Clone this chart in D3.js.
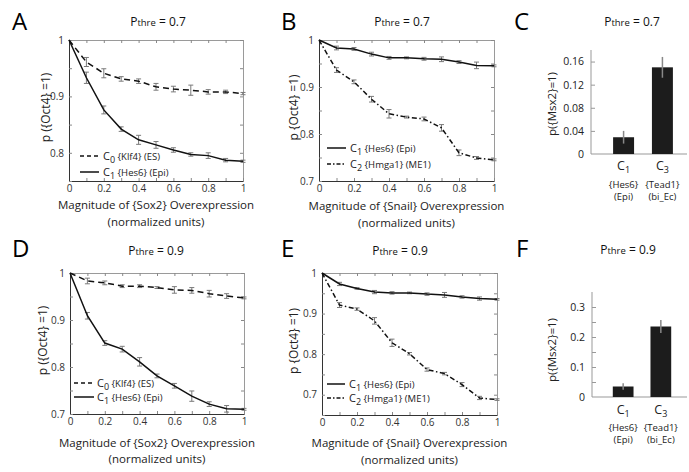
<!DOCTYPE html>
<html><head><meta charset="utf-8">
<script src="https://cdn.jsdelivr.net/npm/d3@7"></script>
<style>body{margin:0;background:#fff}text{font-family:"Open Sans",sans-serif}</style>
</head><body>
<script>
// ---------- data ----------
const xs = [0,0.1,0.2,0.3,0.4,0.5,0.6,0.7,0.8,0.9,1];
const aC0 = [1,0.961,0.941,0.931,0.927,0.917,0.913,0.911,0.908,0.908,0.905];
const aC0Err = [0,0.008,0.008,0.004,0.004,0.006,0.005,0.009,0.004,0.003,0.002];
const aC1 = [1,0.933,0.876,0.842,0.823,0.814,0.805,0.797,0.795,0.787,0.785];
const aC1Err = [0,0.010,0.007,0.004,0.008,0.006,0.004,0.003,0.005,0.003,0.002];
const bC1 = [1,0.983,0.981,0.970,0.962,0.962,0.960,0.959,0.953,0.946,0.945];
const bC1Err = [0,0.004,0.003,0.004,0.003,0.002,0.003,0.005,0.003,0.007,0.002];
const bC2 = [1,0.936,0.911,0.874,0.843,0.836,0.832,0.813,0.760,0.749,0.745];
const bC2Err = [0,0.005,0.004,0.006,0.009,0.002,0.004,0.007,0.006,0.003,0.002];
const dC0 = [1,0.983,0.979,0.972,0.972,0.969,0.964,0.963,0.956,0.951,0.947];
const dC0Err = [0,0.006,0.004,0.003,0.003,0.002,0.007,0.006,0.007,0.005,0.002];
const dC1 = [1,0.909,0.851,0.838,0.811,0.781,0.760,0.738,0.721,0.711,0.710];
const dC1Err = [0,0.007,0.005,0.006,0.009,0.004,0.005,0.011,0.005,0.007,0.002];
const eC1 = [1,0.973,0.962,0.953,0.951,0.951,0.948,0.946,0.941,0.937,0.935];
const eC1Err = [0,0.004,0.002,0.004,0.003,0.002,0.003,0.006,0.003,0.004,0.002];
const eC2 = [1,0.921,0.911,0.882,0.828,0.801,0.762,0.752,0.725,0.692,0.688];
const eC2Err = [0,0.006,0.003,0.008,0.009,0.003,0.004,0.003,0.005,0.004,0.002];

const barCats = ["C1","C3"];
const barSubs = ["1","3"];
const barGenes = ["{Hes6}","{Tead1}"];
const barTypes = ["(Epi)","(bi_Ec)"];
const cVals = [0.029,0.150];
const cErr = [0.011,0.018];
const fVals = [0.035,0.235];
const fErr = [0.011,0.022];

const xLabelSox2 = "Magnitude of {Sox2} Overexpression";
const xLabelSnail = "Magnitude of {Snail} Overexpression";
const xLabel2 = "(normalized units)";

// ---------- drawing ----------
const svg = d3.select("body").append("svg").attr("width",689).attr("height",472);
const DASH = {solid:null, dashed:"6,4", dashdot:"5,2.5,1.5,2.5"};
const LEGDASH = {solid:null, dashed:"4,3", dashdot:"4,2,1.5,2"};

function title(cx, y, val){
  const t = svg.append("text").attr("x",cx).attr("y",y).attr("text-anchor","middle").attr("fill","#111");
  t.append("tspan").attr("font-size",12).text("P");
  t.append("tspan").attr("font-size",9.5).text("thre");
  t.append("tspan").attr("font-size",12).text(" = " + val);
}
function letter(x,y,s){
  svg.append("text").attr("x",x).attr("y",y).attr("font-size",24).attr("fill","#000").text(s);
}
function yLabel(x, cy, s, fs){
  svg.append("text").attr("transform",`translate(${x},${cy}) rotate(-90)`)
    .attr("text-anchor","middle").attr("font-size",fs||12).attr("fill","#222").text(s);
}
function styleAxis(g, domainColor){
  g.select(".domain").attr("stroke",domainColor).attr("stroke-width",1);
  g.selectAll(".tick line").attr("stroke","#888");
  g.selectAll(".tick text").attr("fill","#333").attr("font-family","Open Sans").attr("font-size",10);
}

function linePanel(cfg){
  const x = d3.scaleLinear().domain([0,1]).range([cfg.x0,cfg.x1]);
  const y = d3.scaleLinear().domain(cfg.ydom).range([cfg.y1,cfg.y0]);
  const xt = d3.range(0,11).map(i=>i/10);
  const yt = d3.range(Math.round(cfg.ydom[0]*20), Math.round(cfg.ydom[1]*20)+1).map(i=>i/20);
  const fx = d => (Math.round(d*10)%2===0) ? d3.format("~g")(d) : "";
  const fy = d => (Math.round(d*20)%2===0) ? d3.format("~g")(d) : "";
  const gt = svg.append("g").attr("transform",`translate(0,${cfg.y0})`)
    .call(d3.axisTop(x).tickValues(xt).tickSizeInner(-3).tickSizeOuter(0).tickFormat(""));
  styleAxis(gt,"#9a9a9a");
  const gr = svg.append("g").attr("transform",`translate(${cfg.x1},0)`)
    .call(d3.axisRight(y).tickValues(yt).tickSizeInner(-3).tickSizeOuter(0).tickFormat(""));
  styleAxis(gr,"#9a9a9a");
  const gb = svg.append("g").attr("transform",`translate(0,${cfg.y1})`)
    .call(d3.axisBottom(x).tickValues(xt).tickSizeInner(-3).tickSizeOuter(0).tickPadding(4).tickFormat(fx));
  styleAxis(gb,"#333");
  const gl = svg.append("g").attr("transform",`translate(${cfg.x0},0)`)
    .call(d3.axisLeft(y).tickValues(yt).tickSizeInner(-3).tickSizeOuter(0).tickPadding(5).tickFormat(fy));
  styleAxis(gl,"#333");

  cfg.series.forEach(s=>{
    const pts = xs.map((xv,i)=>({x:xv,v:s.vals[i],e:s.err[i]}));
    const eb = svg.append("g").attr("stroke","#7a7a7a").attr("stroke-width",1);
    pts.filter(p=>p.e>0).forEach(p=>{
      const X = x(p.x);
      eb.append("line").attr("x1",X).attr("x2",X).attr("y1",y(p.v-p.e)).attr("y2",y(p.v+p.e));
      eb.append("line").attr("x1",X-2.5).attr("x2",X+2.5).attr("y1",y(p.v-p.e)).attr("y2",y(p.v-p.e));
      eb.append("line").attr("x1",X-2.5).attr("x2",X+2.5).attr("y1",y(p.v+p.e)).attr("y2",y(p.v+p.e));
    });
    svg.append("path").datum(pts)
      .attr("d",d3.line().x(p=>x(p.x)).y(p=>y(p.v)))
      .attr("fill","none").attr("stroke","#111").attr("stroke-width",1.5)
      .attr("stroke-dasharray",DASH[s.style]);
  });

  // legend
  cfg.legend.entries.forEach((en,i)=>{
    const ly = cfg.legend.y[i];
    svg.append("line").attr("x1",cfg.legend.lx0).attr("x2",cfg.legend.lx1).attr("y1",ly).attr("y2",ly)
      .attr("stroke","#111").attr("stroke-width",1.5).attr("stroke-dasharray",LEGDASH[en.style]);
    const t = svg.append("text").attr("x",cfg.legend.tx).attr("y",ly+4).attr("fill","#222");
    t.append("tspan").attr("font-size",11).text("C");
    t.append("tspan").attr("font-size",9).attr("dy",3).text(en.sub);
    t.append("tspan").attr("font-size",9.5).attr("dy",-3).text(" " + en.label);
  });

  // x labels
  const cx = (cfg.x0+cfg.x1)/2;
  svg.append("text").attr("x",cx).attr("y",cfg.xl1).attr("text-anchor","middle").attr("font-size",11.5).attr("fill","#222").text(cfg.xlabel);
  svg.append("text").attr("x",cx).attr("y",cfg.xl2).attr("text-anchor","middle").attr("font-size",11.5).attr("fill","#222").text(xLabel2);
  yLabel(cfg.ylx, (cfg.y0+cfg.y1)/2 - 3, cfg.ylabel, 12);
}

function barPanel(cfg){
  const x = d3.scaleBand().domain(barCats).range(cfg.xr).paddingInner(cfg.pi).paddingOuter(0.26);
  const y = d3.scaleLinear().domain(cfg.ydom).range([cfg.y1,cfg.y0]);
  svg.append("line").attr("x1",cfg.x0).attr("x2",cfg.x0).attr("y1",cfg.y0).attr("y2",cfg.y1).attr("stroke","#999");
  svg.append("line").attr("x1",cfg.x0).attr("x2",cfg.xend).attr("y1",cfg.y1).attr("y2",cfg.y1).attr("stroke","#999");
  const gl = svg.append("g").attr("transform",`translate(${cfg.x0},0)`)
    .call(d3.axisLeft(y).tickValues(cfg.ticks).tickSizeInner(-4).tickSizeOuter(0).tickPadding(7).tickFormat(cfg.fmt));
  gl.select(".domain").remove();
  gl.selectAll(".tick line").attr("stroke","#999");
  gl.selectAll(".tick text").attr("fill","#222").attr("font-family","Open Sans").attr("font-size",10.5);
  gl.selectAll(".tick").filter(d=>d===0).select("line").remove();

  barCats.forEach((c,i)=>{
    const v = cfg.vals[i], e = cfg.err[i];
    const X = x(c), W = x.bandwidth(), cx = X + W/2;
    svg.append("rect").attr("x",X).attr("y",y(v)).attr("width",W).attr("height",y(0)-y(v)).attr("fill","#1c1c1c");
    svg.append("line").attr("x1",cx).attr("x2",cx).attr("y1",y(v-e)).attr("y2",y(v+e)).attr("stroke","#888").attr("stroke-width",1.5);
    const t = svg.append("text").attr("x",cx).attr("y",cfg.cy).attr("text-anchor","middle").attr("fill","#222");
    t.append("tspan").attr("font-size",12.5).text("C");
    t.append("tspan").attr("font-size",9).attr("dy",3).text(barSubs[i]);
    svg.append("text").attr("x",cx).attr("y",cfg.gy).attr("text-anchor","middle").attr("font-size",9.5)
      .attr("font-family","Liberation Sans").attr("fill","#222").text(barGenes[i]);
    svg.append("text").attr("x",cx).attr("y",cfg.gy+11.5).attr("text-anchor","middle").attr("font-size",9.5)
      .attr("font-family","Liberation Sans").attr("fill","#222").text(barTypes[i]);
  });
  yLabel(cfg.ylx, cfg.ylcy, "p({Msx2}=1)", 11.5);
}

// Panel A
letter(12,30,"A"); title(158,26,"0.7");
linePanel({x0:69,x1:243,y0:40,y1:181,ydom:[0.75,1],
  series:[{vals:aC0,err:aC0Err,style:"dashed"},{vals:aC1,err:aC1Err,style:"solid"}],
  legend:{lx0:80,lx1:99,tx:103,y:[156,172],entries:[{style:"dashed",sub:"0",label:"{Klf4} (ES)"},{style:"solid",sub:"1",label:"{Hes6} (Epi)"}]},
  xlabel:xLabelSox2, xl1:209, xl2:226, ylabel:"p ({Oct4} =1)", ylx:50});
// Panel B
letter(281,30,"B"); title(402,26,"0.7");
linePanel({x0:319,x1:494,y0:40,y1:181,ydom:[0.7,1],
  series:[{vals:bC1,err:bC1Err,style:"solid"},{vals:bC2,err:bC2Err,style:"dashdot"}],
  legend:{lx0:327,lx1:346,tx:350,y:[148,164],entries:[{style:"solid",sub:"1",label:"{Hes6} (Epi)"},{style:"dashdot",sub:"2",label:"{Hmga1} (ME1)"}]},
  xlabel:xLabelSnail, xl1:210, xl2:227, ylabel:"p {Oct4} =1)", ylx:298});
// Panel C
letter(514,30,"C"); title(632,26,"0.7");
barPanel({x0:591,xend:687,y0:50,y1:154,ydom:[0,0.18],xr:[603,683],pi:0.46,
  vals:cVals,err:cErr,ticks:[0,0.04,0.08,0.12,0.16],fmt:d=>d===0?"0":d3.format(".2f")(d),
  cy:170,gy:188,ylx:556,ylcy:104});
// Panel D
letter(12,257,"D"); title(156,255,"0.9");
linePanel({x0:70,x1:244,y0:273,y1:414,ydom:[0.7,1],
  series:[{vals:dC0,err:dC0Err,style:"dashed"},{vals:dC1,err:dC1Err,style:"solid"}],
  legend:{lx0:74,lx1:94,tx:97,y:[383,397],entries:[{style:"dashed",sub:"0",label:"{Klf4} (ES)"},{style:"solid",sub:"1",label:"{Hes6} (Epi)"}]},
  xlabel:xLabelSox2, xl1:447, xl2:463, ylabel:"p ({Oct4} =1)", ylx:47});
// Panel E
letter(281,257,"E"); title(400,255,"0.9");
linePanel({x0:322,x1:497,y0:273,y1:415,ydom:[0.65,1],
  series:[{vals:eC1,err:eC1Err,style:"solid"},{vals:eC2,err:eC2Err,style:"dashdot"}],
  legend:{lx0:327,lx1:345,tx:349,y:[384,398],entries:[{style:"solid",sub:"1",label:"{Hes6} (Epi)"},{style:"dashdot",sub:"2",label:"{Hmga1} (ME1)"}]},
  xlabel:xLabelSnail, xl1:447, xl2:464, ylabel:"p {Oct4} =1)", ylx:298});
// Panel F
letter(516,257,"F"); title(628,254,"0.9");
barPanel({x0:592,xend:687,y0:292,y1:397,ydom:[0,0.35],xr:[603,681],pi:0.45,
  vals:fVals,err:fErr,ticks:[0,0.05,0.1,0.15,0.2,0.25,0.3],fmt:d=>(Math.round(d*20)%2===0)?d3.format("~g")(d):"",
  cy:414,gy:431,ylx:556,ylcy:350});
</script>
</body></html>
